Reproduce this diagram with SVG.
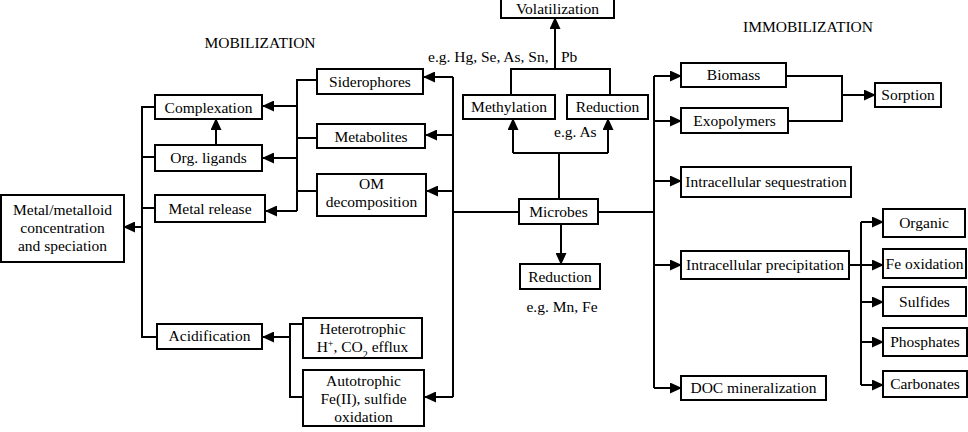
<svg xmlns="http://www.w3.org/2000/svg" width="968" height="432" viewBox="0 0 968 432" font-family="'Liberation Serif', 'Times New Roman', 'DejaVu Serif', serif">
<style>
.b{fill:#fff;stroke:#000;stroke-width:2}
text{font-family:'Liberation Serif','Times New Roman','DejaVu Serif',serif;font-size:15.5px;fill:#000;text-anchor:middle}
.l{fill:none;stroke:#000;stroke-width:2}
.a{fill:none;stroke:#000;stroke-width:2;marker-end:url(#ah)}
</style>
<defs>
<marker id="ah" markerWidth="12" markerHeight="11" refX="11" refY="5.5" orient="auto" markerUnits="userSpaceOnUse"><path d="M0,0 L12,5.5 L0,11 z" fill="#000"/></marker>
</defs>
<rect width="968" height="432" fill="#fff"/>
<text x="260" y="48" font-size="15">MOBILIZATION</text>
<text x="808" y="32" font-size="15">IMMOBILIZATION</text>
<text text-anchor="start" style="text-anchor:start"><tspan x="428" y="62">e.g. Hg, Se, As, Sn,</tspan><tspan x="561" y="62">Pb</tspan></text>
<text x="554" y="137" style="text-anchor:start">e.g. As</text>
<text x="562" y="312">e.g. Mn, Fe</text>
<g id="connectors">
<path class="a" d="M142,227 H124"/>
<path class="l" d="M155,107 H142 V337 H157 M142,157 H155 M142,208 H155"/>
<path class="a" d="M216,145 V119"/>
<path class="l" d="M317,80 H297 V211 M297,138 H317 M297,191 H317"/>
<path class="a" d="M297,106 H263"/>
<path class="a" d="M297,158 H263"/>
<path class="a" d="M297,211 H266"/>
<path class="l" d="M303,324 H290 V397 H303"/>
<path class="a" d="M290,337 H263"/>
<path class="l" d="M453,77 V397 M453,212 H519"/>
<path class="a" d="M453,77 H424"/>
<path class="a" d="M453,135 H426"/>
<path class="a" d="M453,191 H427"/>
<path class="a" d="M453,397 H425"/>
<path class="l" d="M559,199 V153 M513,153 H608"/>
<path class="a" d="M513,153 V119"/>
<path class="a" d="M608,153 V119"/>
<path class="l" d="M511,95 V69 H610 V95"/>
<path class="a" d="M555,69 V18"/>
<path class="a" d="M561,224 V264"/>
<path class="l" d="M598,212 H654 M654,76 V388"/>
<path class="a" d="M654,76 H681"/>
<path class="a" d="M654,121 H681"/>
<path class="a" d="M654,181 H681"/>
<path class="a" d="M654,265 H681"/>
<path class="a" d="M654,388 H681"/>
<path class="l" d="M786,76 H842 V121 H788"/>
<path class="a" d="M842,95 H875"/>
<path class="a" d="M849,265 H883"/>
<path class="l" d="M861,222 V385"/>
<path class="a" d="M861,222 H883"/>
<path class="a" d="M861,302 H883"/>
<path class="a" d="M861,342 H883"/>
<path class="a" d="M861,385 H883"/>
</g>
<g id="metal"><rect class="b" x="1" y="195" width="123" height="67"/><text x="62.5" y="215">Metal/metalloid</text><text x="62.5" y="233">concentration</text><text x="62.5" y="251">and speciation</text></g>
<g id="complexation"><rect class="b" x="155" y="95" width="107" height="24"/><text x="208.5" y="113">Complexation</text></g>
<g id="orgligands"><rect class="b" x="155" y="145" width="107" height="26"/><text x="208.5" y="163">Org. ligands</text></g>
<g id="metalrelease"><rect class="b" x="155" y="195" width="110" height="27"/><text x="210" y="214">Metal release</text></g>
<g id="acidification"><rect class="b" x="157" y="324" width="105" height="25"/><text x="209.5" y="341">Acidification</text></g>
<g id="siderophores"><rect class="b" x="317" y="69" width="106" height="25"/><text x="370" y="87">Siderophores</text></g>
<g id="metabolites"><rect class="b" x="317" y="124" width="108" height="24"/><text x="371" y="142">Metabolites</text></g>
<g id="omdecomp"><rect class="b" x="317" y="174" width="109" height="42"/><text x="371.5" y="189">OM</text><text x="371.5" y="207">decomposition</text></g>
<g id="heterotrophic"><rect class="b" x="303" y="318" width="119" height="40"/><text x="362.5" y="334">Heterotrophic</text><text x="362.5" y="352">H<tspan baseline-shift="super" font-size="10">+</tspan>, CO<tspan baseline-shift="sub" font-size="10">2</tspan> efflux</text></g>
<g id="autotrophic"><rect class="b" x="303" y="370" width="121" height="56"/><text x="363.5" y="386">Autotrophic</text><text x="363.5" y="404">Fe(II), sulfide</text><text x="363.5" y="422">oxidation</text></g>
<g id="volatilization"><rect class="b" x="501" y="-5" width="113" height="23"/><text x="557.5" y="14">Volatilization</text></g>
<g id="methylation"><rect class="b" x="463" y="95" width="92" height="24"/><text x="509" y="112">Methylation</text></g>
<g id="reduction1"><rect class="b" x="567" y="95" width="81" height="24"/><text x="607.5" y="112">Reduction</text></g>
<g id="microbes"><rect class="b" x="519" y="199" width="79" height="25"/><text x="558.5" y="217">Microbes</text></g>
<g id="reduction2"><rect class="b" x="520" y="264" width="80" height="25"/><text x="560" y="282">Reduction</text></g>
<g id="biomass"><rect class="b" x="681" y="63" width="105" height="24"/><text x="733.5" y="80">Biomass</text></g>
<g id="exopolymers"><rect class="b" x="681" y="108" width="107" height="25"/><text x="734.5" y="126">Exopolymers</text></g>
<g id="sorption"><rect class="b" x="875" y="83" width="66" height="24"/><text x="908" y="100">Sorption</text></g>
<g id="sequestration"><rect class="b" x="681" y="167" width="170" height="30"/><text x="766" y="187">Intracellular sequestration</text></g>
<g id="precipitation"><rect class="b" x="681" y="251" width="168" height="28"/><text x="765" y="270">Intracellular precipitation</text></g>
<g id="doc"><rect class="b" x="681" y="376" width="145" height="24"/><text x="753.5" y="393">DOC mineralization</text></g>
<g id="organic"><rect class="b" x="883" y="209" width="82" height="28"/><text x="924" y="228">Organic</text></g>
<g id="feoxidation"><rect class="b" x="883" y="249" width="83" height="29"/><text x="924.5" y="269">Fe oxidation</text></g>
<g id="sulfides"><rect class="b" x="883" y="287" width="83" height="29"/><text x="924.5" y="307">Sulfides</text></g>
<g id="phosphates"><rect class="b" x="883" y="328" width="84" height="28"/><text x="925" y="347">Phosphates</text></g>
<g id="carbonates"><rect class="b" x="883" y="371" width="84" height="26"/><text x="925" y="389">Carbonates</text></g>
</svg>
